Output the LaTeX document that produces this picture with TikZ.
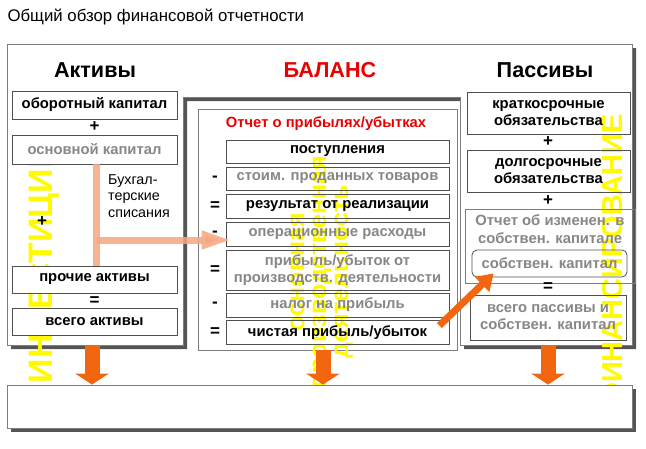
\documentclass[tikz,border=0pt]{standalone}
\usepackage{fontspec}
\setmainfont{Liberation Sans}
\usepackage{xcolor}
\usetikzlibrary{arrows.meta,positioning}
\definecolor{framegray}{RGB}{125,125,125}
\definecolor{cellgray}{RGB}{80,80,80}
\definecolor{shadowgray}{RGB}{85,85,85}
\definecolor{softgray}{RGB}{135,135,135}
\definecolor{balred}{RGB}{235,0,0}
\definecolor{flowyellow}{RGB}{255,250,0}
\definecolor{arroworange}{RGB}{242,102,16}
\definecolor{writeoff}{RGB}{246,168,128}

\begin{document}
\begin{tikzpicture}[x=1pt,y=-1pt,
  cell/.style={draw=cellgray, line width=0.8pt, inner sep=1pt, align=center, font=\fontsize{14.8}{17}\selectfont\bfseries},
  graycell/.style={cell, text=softgray},
  sign/.style={font=\fontsize{17}{17}\selectfont\bfseries, inner sep=0pt},
  colhead/.style={font=\fontsize{21.6}{22}\selectfont\bfseries},
  flowtext/.style={text=flowyellow, rotate=90, inner sep=0pt, font=\fontsize{#1}{#1}\selectfont\bfseries},
  bigarrow/.style={arroworange, line width=15pt, -{Triangle[width=33pt,length=11pt]}}
]
  \useasboundingbox (0,0) rectangle (646,448);

  \node[anchor=west, font=\fontsize{16.8}{17}\selectfont] (title) at (4,17) {Общий обзор финансовой отчетности};

  \fill[shadowgray, xshift=4pt, yshift=-4pt] (7,44) -- (632,44) -- (632,345) -- (460,345) -- (460,97) -- (183,97) -- (183,345) -- (7,345) -- cycle;
  \draw[framegray, fill=white, line width=0.8pt] (7,44) -- (632,44) -- (632,345) -- (460,345) -- (460,97) -- (183,97) -- (183,345) -- (7,345) -- cycle;

  \node[colhead] (aktivy) at (95,70) {Активы};
  \node[colhead, text=balred] (balans) at (330,70) {БАЛАНС};
  \node[colhead] (passivy) at (545,70) {Пассивы};

  % Aktivy
  \node[flowtext=34] (invest) at (44,264) {ИНВЕСТИЦИИ};
  \node[cell, fill=white, minimum width=165, minimum height=28] (oborot) at (94.5,105) {оборотный капитал};
  \node[sign] at (94.5,127) {+};
  \node[graycell, fill=white, minimum width=165, minimum height=29] (osnov) at (94.5,149.5) {основной капитал};
  \node[anchor=north west, align=left, inner sep=0pt, font=\fontsize{14.3}{16.5}\selectfont] (spis) at (108,174) {Бухгал-\\терские\\списания};
  \node[sign] at (42,222) {+};
  \node[cell, fill=white, minimum width=165, minimum height=27] (prochie) at (94.5,279.5) {прочие активы};
  \node[sign] at (94.5,301) {=};
  \node[cell, fill=white, minimum width=165, minimum height=27] (vsegoA) at (94.5,321.5) {всего активы};

  % Otchet o pribylyakh
  \draw[framegray, fill=white, line width=0.8pt] (198,109) rectangle (457,350);
  \node[text=balred, font=\fontsize{14.8}{15}\selectfont\bfseries] (pl) at (326,124) {Отчет о прибылях/убытках};
  \node[flowtext=25, align=center, font=\fontsize{25}{22}\selectfont\bfseries] (osndeyat) at (322,272) {основная\\производственная\\деятельность};
  \node[cell, minimum width=223, minimum height=23] (postup) at (337.5,151.5) {поступления};
  \node[graycell, minimum width=223, minimum height=23] (stoim) at (337.5,178.5) {стоим. проданных товаров};
  \node[cell, minimum width=223, minimum height=24] (rezult) at (337.5,206) {результат от реализации};
  \node[graycell, minimum width=223, minimum height=24] (oper) at (337.5,234) {операционные расходы};
  \node[graycell, minimum width=223, minimum height=40] (pribyl) at (337.5,270) {прибыль/убыток от\\производств. деятельности};
  \node[graycell, minimum width=223, minimum height=24] (nalog) at (337.5,305) {налог на прибыль};
  \node[cell, minimum width=223, minimum height=24] (chist) at (337.5,332.5) {чистая прибыль/убыток};
  \node[sign] at (215,178.5) {-};
  \node[sign] at (215,206) {=};
  \node[sign] at (215,234) {-};
  \node[sign] at (215,270) {=};
  \node[sign] at (215,305) {-};
  \node[sign] at (215,332.5) {=};

  % Passivy
  \node[flowtext=29] (finans) at (613,261) {ФИНАНСИРОВАНИЕ};
  \node[cell, minimum width=163, minimum height=42] (kratk) at (548.5,113) {краткосрочные\\обязательства};
  \node[sign] at (548,142) {+};
  \node[cell, minimum width=163, minimum height=42] (dolg) at (548.5,171) {долгосрочные\\обязательства};
  \node[sign] at (548,201) {+};
  \node[draw=framegray, line width=0.8pt, minimum width=170, minimum height=74] (izmen) at (550,246) {};
  \node[text=softgray, align=center, font=\fontsize{14.8}{18}\selectfont\bfseries, below=3pt of izmen.north] (izmentext) {Отчет об изменен. в\\собствен. капитале};
  \node[graycell, draw=cellgray, rounded corners=5pt, minimum width=155, minimum height=27] (sobst) at (549.5,263.5) {собствен. капитал};
  \node[sign] at (548,287) {=};
  \node[graycell, minimum width=156, minimum height=45] (vsegoP) at (548,317.5) {всего пассивы и\\собствен. капитал};

  % arrows
  \draw[writeoff, line width=7pt, opacity=0.85] ([xshift=2pt]osnov.south) -- ([xshift=2pt]prochie.north);
  \draw[writeoff, line width=7pt, opacity=0.85, -{Triangle[width=17pt,length=30pt]}] (96.5,240) -- ([xshift=6pt,yshift=-6pt]oper.west);
  \draw[arroworange, line width=7pt, -{Triangle[width=20pt,length=16pt]}] ([xshift=-10pt,yshift=7pt]chist.east) -- ([xshift=22pt,yshift=4pt]sobst.south west);

  \fill[shadowgray] (11,389) rectangle (636,432);
  \node[draw=framegray, fill=white, line width=0.8pt, minimum width=625, minimum height=43] (cashflow) at (319.5,406.5) {};

  \coordinate (aktbot) at (92,345);
  \coordinate (plbot) at (323,350);
  \coordinate (pasbot) at (548,345);
  \draw[bigarrow] (aktbot) -- (aktbot |- cashflow.north);
  \draw[bigarrow] (plbot) -- (plbot |- cashflow.north);
  \draw[bigarrow] (pasbot) -- (pasbot |- cashflow.north);
\end{tikzpicture}
\end{document}
